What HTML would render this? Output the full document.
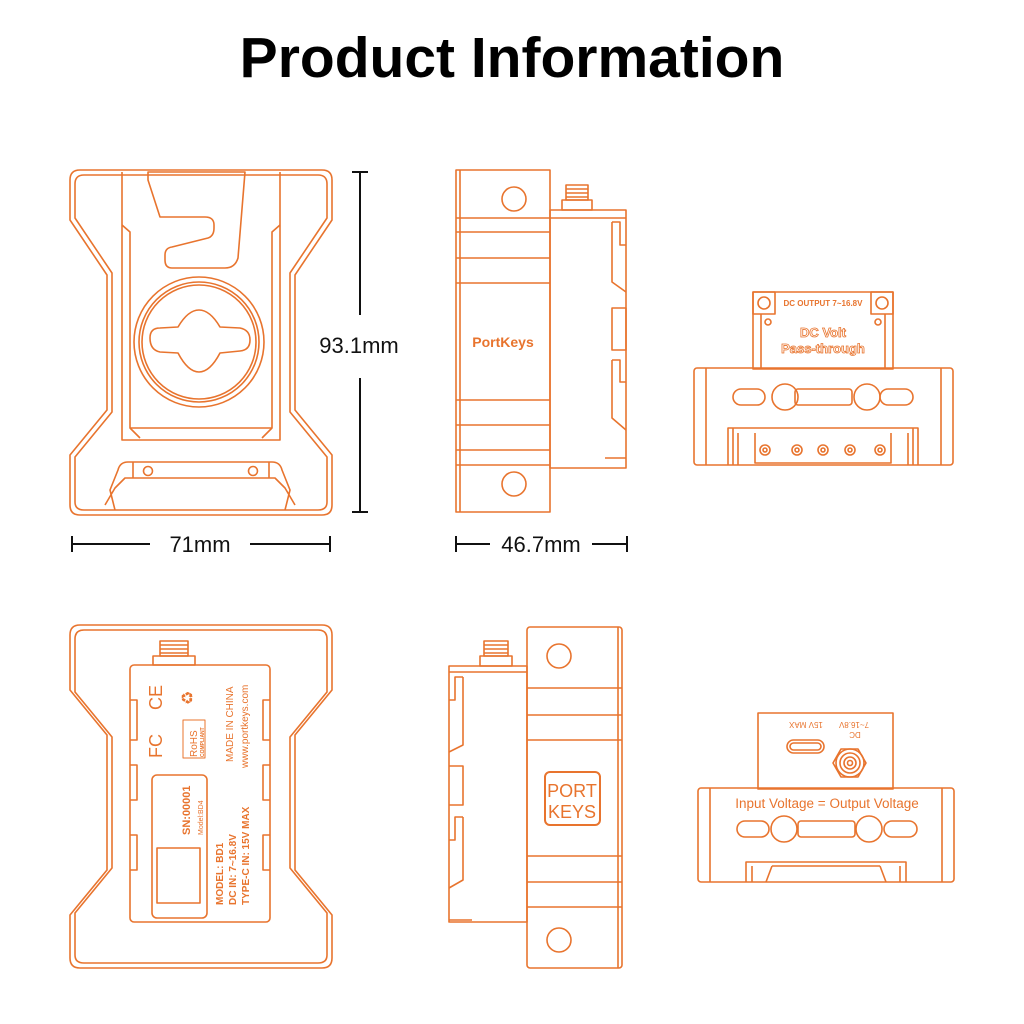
<!DOCTYPE html>
<html><head><meta charset="utf-8"><style>
html,body{margin:0;padding:0;background:#fff;}
svg{display:block;}
</style></head><body>
<svg width="1024" height="1024" viewBox="0 0 1024 1024" xmlns="http://www.w3.org/2000/svg" font-family="Liberation Sans, sans-serif">
<rect width="1024" height="1024" fill="#fff"/>
<text x="512" y="77" text-anchor="middle" font-size="57" font-weight="bold" fill="#000">Product Information</text>

<g fill="none" stroke="#E8742E" stroke-width="1.6" stroke-linejoin="round">
<!-- TOP LEFT -->
<path d="M80,170 H322 Q332,170 332,180 V220 L295,275 V410 L332,455 V505 Q332,515 322,515 H80 Q70,515 70,505 V455 L107,410 V275 L70,220 V180 Q70,170 80,170 Z"/>
<path d="M84,175 H318 Q327,175 327,184 V218 L290,273 V412 L327,457 V502 Q327,510 318,510 H84 Q75,510 75,502 V457 L112,412 V273 L75,218 V184 Q75,175 84,175 Z"/>
<path d="M122,172 V440 H280 V172"/>
<path d="M122,225 L130,232 V428 L140,438 M280,225 L272,232 V428 L262,438"/>
<line x1="130" y1="428" x2="272" y2="428"/>
<path d="M148,172 H245 L238,258 Q235,268 225,268 H172 Q165,268 165,260 V255 Q165,248 172,247 L208,238 Q214,236 214,228 V225 Q214,217 205,217 H160 L148,180 Z"/>
<circle cx="199" cy="342" r="65"/>
<circle cx="199" cy="342" r="60"/>
<circle cx="199" cy="342" r="57"/>
<path d="M150,338 Q150,328 160,328 L178,327 Q188,310 199,310 Q210,310 220,327 L240,328 Q250,330 250,340 Q250,350 240,351 L220,353 Q210,372 199,372 Q188,372 178,353 L160,352 Q150,350 150,338 Z"/>
<path d="M115,510 L110,490 L118,470 Q120,462 128,462 H272 Q280,462 282,470 L290,490 L285,510"/>
<path d="M105,505 L115,488 L125,478 H275 L285,488 L295,505"/>
<line x1="133" y1="462" x2="133" y2="478"/><line x1="269" y1="462" x2="269" y2="478"/>
<circle cx="148" cy="471" r="4.5"/><circle cx="253" cy="471" r="4.5"/>

<!-- TOP MIDDLE -->
<rect x="456" y="170" width="94" height="342"/>
<line x1="460" y1="170" x2="460" y2="512"/>
<circle cx="514" cy="199" r="12"/><circle cx="514" cy="484" r="12"/>
<path d="M456,218 H550 M456,232 H550 M456,258 H550 M456,283 H550 M456,400 H550 M456,425 H550 M456,450 H550 M456,465 H550"/>
<rect x="550" y="210" width="76" height="258"/>
<line x1="550" y1="218" x2="626" y2="218"/>
<path d="M612,222 H620 V245 H626 M612,222 V282 L626,292 M612,308 H626 V350 H612 Z M612,360 H620 V382 H626 M612,360 V418 L626,430 M605,458 H626"/>
<rect x="562" y="200" width="30" height="10"/>
<rect x="566" y="185" width="22" height="15"/>
<path d="M566,189 H588 M566,193 H588 M566,197 H588"/>

<!-- TOP RIGHT -->
<rect x="753" y="292" width="140" height="77"/>
<rect x="753" y="292" width="22" height="22"/><rect x="871" y="292" width="22" height="22"/>
<circle cx="764" cy="303" r="6"/><circle cx="882" cy="303" r="6"/>
<line x1="761" y1="314" x2="761" y2="368"/><line x1="885" y1="314" x2="885" y2="368"/>
<circle cx="768" cy="322" r="3"/><circle cx="878" cy="322" r="3"/>
<rect x="694" y="368" width="259" height="97" rx="3"/>
<line x1="706" y1="368" x2="706" y2="465"/><line x1="941" y1="368" x2="941" y2="465"/>
<rect x="733" y="389" width="32" height="16" rx="8"/>
<circle cx="785" cy="397" r="13"/>
<rect x="795" y="389" width="57" height="16" rx="3"/>
<circle cx="867" cy="397" r="13"/>
<rect x="880" y="389" width="33" height="16" rx="8"/>
<path d="M728,465 V428 H918 V465 M733,428 V465 M913,428 V465 M738,433 V465 M908,433 V465 M755,433 V463 H891 V433"/>
<circle cx="765" cy="450" r="5"/><circle cx="797" cy="450" r="5"/><circle cx="823" cy="450" r="5"/><circle cx="850" cy="450" r="5"/><circle cx="880" cy="450" r="5"/>
<circle cx="765" cy="450" r="2"/><circle cx="797" cy="450" r="2"/><circle cx="823" cy="450" r="2"/><circle cx="850" cy="450" r="2"/><circle cx="880" cy="450" r="2"/>

<!-- BOTTOM LEFT -->
<path d="M80,625 H322 Q332,625 332,635 V690 L295,735 V870 L332,915 V958 Q332,968 322,968 H80 Q70,968 70,958 V915 L107,870 V735 L70,690 V635 Q70,625 80,625 Z"/>
<path d="M84,630 H318 Q327,630 327,639 V692 L290,737 V868 L327,913 V955 Q327,963 318,963 H84 Q75,963 75,955 V913 L112,868 V737 L75,692 V639 Q75,630 84,630 Z"/>
<rect x="130" y="665" width="140" height="257" rx="4"/>
<path d="M130,700 H137 V740 H130 M130,765 H137 V800 H130 M130,835 H137 V870 H130 M270,700 H263 V740 H270 M270,765 H263 V800 H270 M270,835 H263 V870 H270"/>
<rect x="152" y="775" width="55" height="143" rx="5"/>
<rect x="157" y="848" width="43" height="55"/>
<rect x="153" y="656" width="42" height="9"/>
<rect x="160" y="641" width="28" height="15"/>
<path d="M160,645 H188 M160,649 H188 M160,653 H188"/>
<rect x="183" y="720" width="22" height="38" stroke-width="1"/>

<!-- BOTTOM MIDDLE -->
<rect x="527" y="627" width="95" height="341" rx="3"/>
<line x1="618" y1="627" x2="618" y2="968"/>
<circle cx="559" cy="656" r="12"/><circle cx="559" cy="940" r="12"/>
<path d="M527,688 H622 M527,715 H622 M527,740 H622 M527,856 H622 M527,882 H622 M527,907 H622"/>
<rect x="449" y="666" width="78" height="256"/>
<line x1="449" y1="672" x2="527" y2="672"/>
<path d="M463,677 H455 V700 H449 M463,677 V745 L449,752 M449,766 H463 V805 H449 M463,817 H455 V840 H449 M463,817 V880 L449,888 M449,920 H472"/>
<rect x="480" y="656" width="32" height="10"/>
<rect x="484" y="641" width="24" height="15"/>
<path d="M484,645 H508 M484,649 H508 M484,653 H508"/>
<rect x="545" y="772" width="55" height="53" rx="5" stroke-width="2"/>

<!-- BOTTOM RIGHT -->
<rect x="758" y="713" width="135" height="76"/>
<rect x="787" y="740" width="37" height="13" rx="6.5"/>
<rect x="790" y="743" width="31" height="7" rx="3.5"/>
<polygon points="833,763 841,749 858,749 866,763 858,777 841,777"/>
<circle cx="850" cy="763" r="14"/><circle cx="850" cy="763" r="10"/><circle cx="850" cy="763" r="6"/><circle cx="850" cy="763" r="2.5"/>
<rect x="698" y="788" width="256" height="94" rx="3"/>
<line x1="710" y1="788" x2="710" y2="882"/><line x1="942" y1="788" x2="942" y2="882"/>
<rect x="737" y="821" width="32" height="16" rx="8"/>
<circle cx="784" cy="829" r="13"/>
<rect x="798" y="821" width="57" height="16" rx="3"/>
<circle cx="869" cy="829" r="13"/>
<rect x="884" y="821" width="33" height="16" rx="8"/>
<path d="M746,882 V862 H906 V882 M752,866 V882 M900,866 V882 M772,866 L766,882 M880,866 L886,882 M772,866 H880"/>
</g>

<!-- dimension lines -->
<g stroke="#111" stroke-width="2" fill="none">
<path d="M360,172 V315 M360,378 V512 M352,172 H368 M352,512 H368"/>
<path d="M72,544 H150 M250,544 H330 M72,536 V552 M330,536 V552"/>
<path d="M456,544 H490 M592,544 H627 M456,536 V552 M627,536 V552"/>
</g>
<g fill="#111" font-size="22">
<text x="359" y="353" text-anchor="middle">93.1mm</text>
<text x="200" y="552" text-anchor="middle">71mm</text>
<text x="541" y="552" text-anchor="middle">46.7mm</text>
</g>

<!-- orange labels -->
<g fill="#E8742E" font-weight="bold">
<text x="503" y="347" text-anchor="middle" font-size="14">PortKeys</text>
<text x="823" y="306" text-anchor="middle" font-size="8">DC OUTPUT 7~16.8V</text>
<text x="823" y="337" text-anchor="middle" font-size="13" fill="none" stroke="#E8742E" stroke-width="0.8">DC Volt</text>
<text x="823" y="353" text-anchor="middle" font-size="13" fill="none" stroke="#E8742E" stroke-width="0.8">Pass-through</text>
<text x="827" y="808" text-anchor="middle" font-size="13.5" font-weight="normal">Input Voltage = Output Voltage</text>
<g font-size="8" font-weight="normal">
<text transform="translate(806,722) rotate(180)" text-anchor="middle">15V MAX</text>
<text transform="translate(854,722) rotate(180)" text-anchor="middle">7~16.8V</text>
<text transform="translate(855,732) rotate(180)" text-anchor="middle">DC</text>
</g>
<text x="572" y="797" text-anchor="middle" font-size="18" font-weight="normal">PORT</text>
<text x="572" y="818" text-anchor="middle" font-size="18" font-weight="normal">KEYS</text>
<g font-size="10">
<text transform="translate(223,905) rotate(-90)">MODEL: BD1</text>
<text transform="translate(236,905) rotate(-90)">DC IN: 7~16.8V</text>
<text transform="translate(249,905) rotate(-90)">TYPE-C IN: 15V MAX</text>
<text transform="translate(190,835) rotate(-90)" font-size="11">SN:00001</text>
<text transform="translate(203,835) rotate(-90)" font-size="7" font-weight="normal">Model:BD4</text>
<text transform="translate(233,762) rotate(-90)" font-weight="normal">MADE IN CHINA</text>
<text transform="translate(248,768) rotate(-90)" font-weight="normal">www.portkeys.com</text>
<text transform="translate(162,758) rotate(-90)" font-size="18" font-weight="normal">FC</text>
<text transform="translate(162,710) rotate(-90)" font-size="18" font-weight="normal">CE</text>
<text transform="translate(197,757) rotate(-90)" font-size="10" font-weight="normal">RoHS</text>
<text transform="translate(204,757) rotate(-90)" font-size="5">COMPLIANT</text>
<text transform="translate(193,705) rotate(-90)" font-size="16" font-weight="normal">♻</text>
</g>
</g>
</svg>
</body></html>
